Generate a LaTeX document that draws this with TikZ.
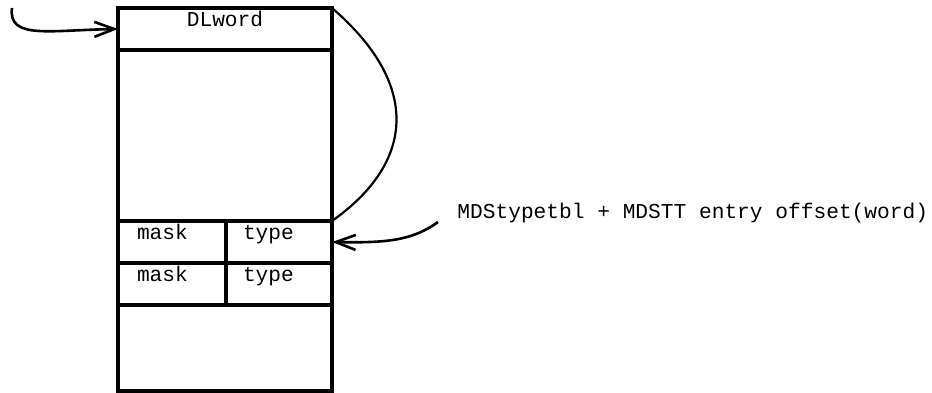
\documentclass[tikz,border=0pt]{standalone}
\usepackage{fontspec}
\setmonofont{Liberation Mono}
\usetikzlibrary{positioning, arrows.meta}

\begin{document}
\begin{tikzpicture}[x=0.5pt, y=-0.5pt, font=\ttfamily\fontsize{10.6}{12}\selectfont,
    cell/.style={draw, line width=1.7pt, inner sep=0pt, outer sep=0pt,
        text height=9.25pt, text depth=11.75pt},
    wide/.style={cell, text width=107pt, align=center},
    maskcell/.style={cell, inner xsep=9.5pt, text width=35pt, align=left},
    typecell/.style={cell, inner xsep=8.5pt, text width=36pt, align=left},
    link/.style={line width=1.3pt, -{Straight Barb[length=10pt, width=7.5pt]}}]

    \useasboundingbox (0,0) rectangle (932,392);

    % --- Blocco DLword ---
    \node[wide, anchor=north west] (head) at (118,8) {DLword};
    \node[cell, minimum width=107pt, minimum height=85.5pt, text height=, text depth=,
        below=0pt of head] (body) {};

    % --- Righe mask / type ---
    \node[maskcell, below right=0pt of body.south west] (mask1) {mask};
    \node[typecell, right=0pt of mask1] (type1) {type};
    \node[maskcell, below=0pt of mask1] (mask2) {mask};
    \node[typecell, right=0pt of mask2] (type2) {type};
    \node[cell, minimum width=107pt, minimum height=43pt, text height=, text depth=,
        below right=0pt of mask2.south west] (tail) {};

    % --- Etichetta a destra ---
    \node[anchor=base west, inner sep=0pt] (offsetlbl) at (457,218)
        {MDStypetbl + MDSTT entry offset(word)};

    % --- Frecce ---
    \coordinate (inptr) at (12,8);
    \draw[link] (inptr) .. controls (8,40) and (50,30) .. (head.west);
    \coordinate (offptr) at (438,222);
    \draw[link] (offptr) .. controls (412,241) and (385,243) .. (type1.east);

    % --- Arco DLword -> riga mask/type ---
    \draw[line width=1.1pt] (head.north east) .. controls (418,82) and (418,160) .. (body.south east);

\end{tikzpicture}
\end{document}
